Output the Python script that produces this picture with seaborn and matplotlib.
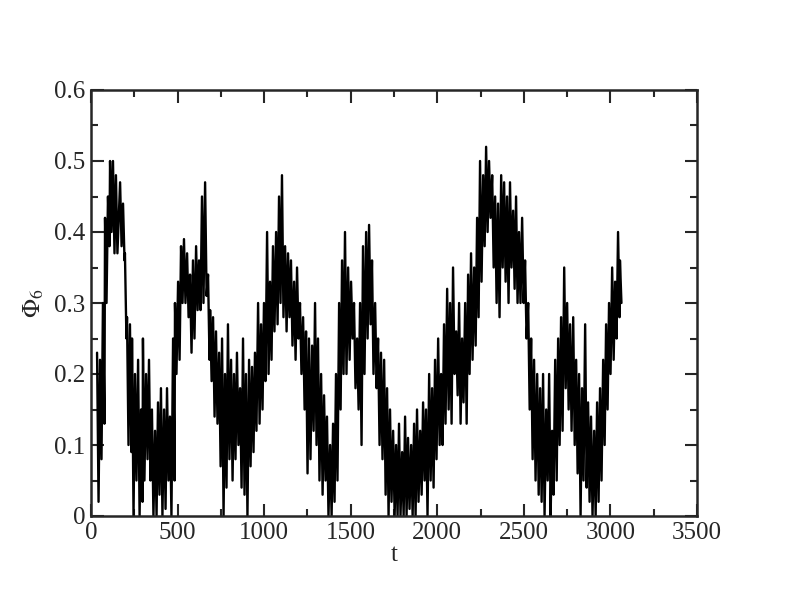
import matplotlib
matplotlib.use("Agg")
import matplotlib.pyplot as plt
from matplotlib.ticker import MultipleLocator, FuncFormatter
import numpy as np
import pandas as pd
import seaborn as sns


# Each entry: time of a local swing, upper and lower value
t_swing = [
    35, 52, 69, 81, 98, 110, 127, 144, 168, 185, 196, 208, 225, 237, 254,
    272, 289, 300, 318, 335, 352, 370, 387, 404, 422, 439, 456, 474, 485,
    503, 520, 537, 555, 572, 589, 607, 624, 641, 659, 676, 688, 705, 722,
    740, 757, 774, 791, 809, 826, 843, 861, 878, 895, 913, 930, 947, 965,
    982, 999, 1017, 1034, 1051, 1069, 1086, 1103, 1121, 1138, 1155, 1173,
    1190, 1207, 1225, 1242, 1259, 1277, 1294, 1311, 1329, 1346, 1363, 1381,
    1398, 1415, 1433, 1450, 1467, 1485, 1502, 1519, 1537, 1554, 1571, 1589,
    1606, 1623, 1641, 1658, 1675, 1693, 1710, 1727, 1745, 1762, 1779, 1797,
    1814, 1831, 1849, 1866, 1883, 1901, 1918, 1935, 1953, 1970, 1987, 2005,
    2022, 2039, 2057, 2074, 2091, 2109, 2126, 2143, 2161, 2178, 2195, 2213,
    2230, 2247, 2265, 2282, 2299, 2317, 2334, 2351, 2369, 2386, 2403, 2420,
    2438, 2455, 2472, 2490, 2507, 2525, 2542, 2559, 2577, 2594, 2611, 2629,
    2646, 2663, 2681, 2698, 2715, 2733, 2750, 2767, 2785, 2802, 2819, 2836,
    2854, 2871, 2888, 2906, 2923, 2940, 2958, 2975, 2992, 3010, 3027, 3044,
    3055,
]
phi_hi = [
    .23, .22, .30, .42, .45, .50, .50, .48, .47, .44, .37, .28, .27, .25, .20,
    .22, .15, .25, .20, .22, .15, .12, .16, .18, .15, .18, .14, .25, .30,
    .33, .38, .39, .37, .34, .36, .38, .36, .45, .47, .34, .29, .28, .26,
    .23, .25, .20, .27, .22, .20, .23, .18, .25, .20, .22, .21, .23, .30,
    .27, .30, .40, .33, .38, .40, .45, .48, .38, .37, .36, .33,
    .35, .30, .28, .26, .25, .24, .30, .25, .20, .17, .14, .10,
    .13, .20, .30, .36, .40, .35, .33, .30, .25, .30, .38, .40,
    .41, .36, .30, .25, .23, .22, .18, .15, .12, .10, .13, .09,
    .14, .11, .10, .13, .15, .12, .16, .15, .20, .18, .22, .25,
    .20, .27, .32, .30, .35, .26, .30, .25, .30, .34, .37, .35,
    .42, .50, .48, .52, .50, .48, .45, .44, .48, .47, .45, .47,
    .43, .45, .40, .42, .36, .30, .25, .22, .20, .18, .20, .15,
    .20, .12, .22, .25, .28, .35, .30, .27, .28, .22, .20, .18,
    .27, .16, .14, .12, .16, .18, .22, .27, .30, .35, .33, .40,
    .36,
]
phi_lo = [
    .02, .08, .13, .30, .38, .40, .37, .37, .38, .36, .25, .10, .09, .00, .05,
    .00, .02, .05, .08, .05, .00, .00, .03, .00, .01, .05, .00, .05, .20,
    .22, .30, .30, .28, .23, .25, .29, .29, .30, .31, .22, .19, .14, .13,
    .07, .00, .04, .08, .05, .08, .10, .04, .03, .00, .07, .09, .12, .13,
    .15, .19, .20, .22, .26, .27, .30, .28, .26, .28, .24, .22,
    .25, .20, .15, .06, .08, .12, .10, .05, .03, .05, .00, .00,
    .02, .05, .15, .20, .20, .22, .25, .18, .15, .10, .20, .25,
    .27, .20, .18, .10, .08, .03, .00, .02, .00, .00, .00, .00,
    .00, .01, .00, .00, .02, .03, .05, .00, .05, .04, .08, .10,
    .10, .13, .15, .13, .20, .17, .13, .16, .13, .20, .22, .24,
    .28, .33, .38, .40, .42, .35, .30, .28, .35, .33, .30, .35,
    .32, .30, .30, .30, .25, .15, .08, .05, .03, .02, .00, .05,
    .00, .03, .05, .10, .12, .18, .15, .12, .10, .06, .00, .05,
    .04, .02, .00, .00, .02, .05, .10, .15, .20, .22, .25, .28,
    .30,
]

# interleave the upper and lower swings into one trace
t_vals = []
phi_vals = []
for t, hi, lo in zip(t_swing, phi_hi, phi_lo):
    t_vals += [t, t + 8.6]
    phi_vals += [hi, lo]
data = pd.DataFrame({"t": t_vals, "phi6": phi_vals})

sns.set_style("ticks")
plt.rcParams["font.family"] = ["Liberation Serif", "DejaVu Serif"]
plt.rcParams["mathtext.fontset"] = "stix"

figure = plt.figure(figsize=(7.92, 6.07), dpi=100)
axes = figure.add_axes([91 / 792, 91 / 607, 606 / 792, 426 / 607])

sns.lineplot(
    x="t", y="phi6", data=data, ax=axes,
    sort=False, estimator=None, color="black", linewidth=1.7)

axes.set_xlim(0, 3500)
axes.set_ylim(0, 0.6)
axes.xaxis.set_major_locator(MultipleLocator(500))
axes.xaxis.set_minor_locator(MultipleLocator(250))
axes.yaxis.set_major_locator(MultipleLocator(0.1))
axes.yaxis.set_minor_locator(MultipleLocator(0.05))
axes.yaxis.set_major_formatter(
    FuncFormatter(lambda v, p: "0" if abs(v) < 1e-9 else "{:.1f}".format(v)))
axes.tick_params(which="both", direction="in", top=True, right=True,
                 width=1.5, labelsize=18, pad=4)
axes.tick_params(which="major", length=9)
axes.tick_params(which="minor", length=5)
for spine in axes.spines.values():
    spine.set_linewidth(1.8)

axes.set_xlabel("t", fontsize=18, labelpad=0)
axes.set_ylabel(r"$\Phi_6$", fontsize=18, labelpad=6)

figure.savefig("out.png", dpi=100)
